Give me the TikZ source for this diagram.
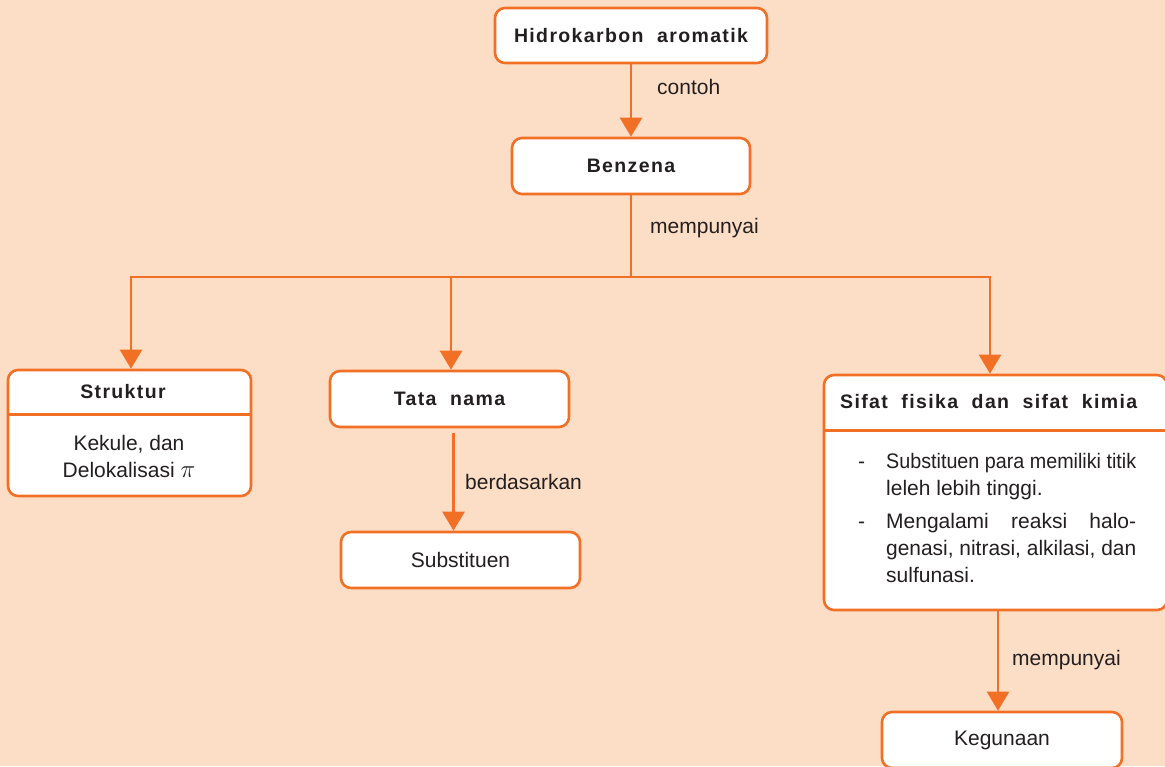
\documentclass[tikz,border=0pt]{standalone}
\usepackage{fontspec}
\usepackage{graphicx}
\usepackage{xcolor}
\usetikzlibrary{arrows.meta,positioning}
\setmainfont{Liberation Sans}
\newfontfamily\headfont[LetterSpace=7,WordSpace=2]{Liberation Sans}
\definecolor{peach}{RGB}{252,222,198}
\definecolor{orng}{RGB}{241,112,38}
\definecolor{ink}{RGB}{35,31,32}

\begin{document}
\begin{tikzpicture}[x=1pt, y=-1pt, font=\fontsize{21}{27}\selectfont, text=ink,
 box/.style={draw=orng, line width=2.6pt, fill=white, rounded corners=10pt, minimum width=239pt, minimum height=56pt, inner sep=0pt},
 head/.style={font=\headfont\bfseries\fontsize{19.5}{24}\selectfont, inner sep=0pt},
 lbl/.style={anchor=west, inner sep=0pt},
 line/.style={draw=orng, line width=2.5pt},
 arrow/.style={line, -{Triangle[width=22pt,length=19pt]}}]
\useasboundingbox (0,0) rectangle (1165,766);
\fill[peach] (0,0) rectangle (1165,766);
% boxes
\node[box, head, minimum width=272pt, minimum height=55pt] (hidro) at (631,35.5) {Hidrokarbon aromatik};
\node[box, head, minimum width=238pt] (benz) at (631,166) {Benzena};
\node[box, minimum width=243pt, minimum height=126pt] (struk) at (129.5,433) {};
\node[head] (strukhead) at (123,392) {Struktur};
\node[align=center, inner sep=0pt] (strukbody) at (129,456.5) {Kekule, dan\\Delokalisasi \scalebox{1.2}{$\pi$}};
\node[box, head] (tata) at (449.5,399) {Tata nama};
\node[box] (subs) at (460.5,560) {Substituen};
\node[box, minimum width=343pt, minimum height=235pt] (sifat) at (995.5,492.5) {};
\node[head, anchor=west] (sifathead) at (840,402) {Sifat fisika dan sifat kimia};
\node[anchor=north west, align=left, inner sep=0pt] (sifatbody) at (858,453) {%
 \makebox[28pt][l]{-}\resizebox{250pt}{\height}{Substituen para memiliki titik}\\
 \hspace*{28pt}leleh lebih tinggi.\\[6pt]
 \makebox[28pt][l]{-}\makebox[250pt][s]{Mengalami reaksi halo-}\\
 \hspace*{28pt}\resizebox{250pt}{\height}{genasi, nitrasi, alkilasi, dan}\\
 \hspace*{28pt}sulfunasi.};
\node[box, minimum width=240pt] (kegu) at (1002,740) {Kegunaan};
% dividers
\draw[orng, line width=2.6pt] ([yshift=-46pt]struk.north west) -- ([yshift=-46pt]struk.north east);
\draw[orng, line width=2.6pt] ([yshift=-57pt]sifat.north west) -- ([yshift=-57pt]sifat.north east);
% connectors
\coordinate (split) at (631,277);
\coordinate (busL) at (131,277);
\coordinate (busM) at (451,277);
\coordinate (busR) at (990,277);
\draw[arrow] (hidro) -- (benz);
\draw[line] (benz) -- (split);
\draw[arrow] (split) -- (busL) -- (busL |- struk.north);
\draw[arrow] (split) -- (busR) -- (busR |- sifat.north);
\draw[arrow] (busM) -- (busM |- tata.north);
\draw[arrow] ([xshift=4pt,yshift=-5pt]tata.south) -- ([xshift=4pt]tata.south |- subs.north);
\draw[arrow] ([xshift=2.5pt]sifat.south) -- ([xshift=2.5pt]sifat.south |- kegu.north);
% labels
\node[lbl] (contoh) at (657,87) {contoh};
\node[lbl] (punya1) at (650,228) {mempunyai};
\node[lbl] (dasar) at (465,482) {berdasarkan};
\node[lbl] (punya2) at (1012,660) {mempunyai};
\end{tikzpicture}
\end{document}
